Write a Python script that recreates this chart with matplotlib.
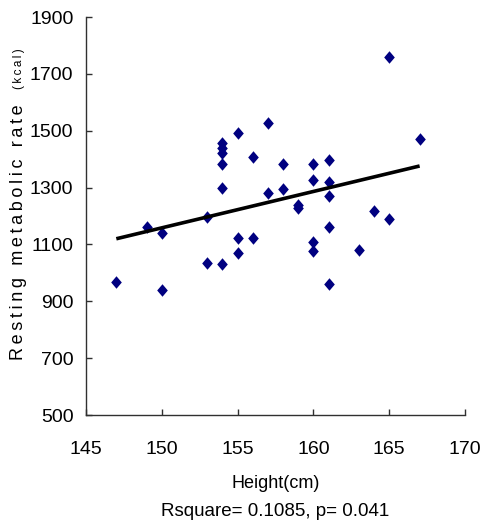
import matplotlib

matplotlib.use("Agg")

import matplotlib.pyplot as plt

plt.rcParams["font.family"] = ["Liberation Sans", "DejaVu Sans"]

# height (cm) vs resting metabolic rate (kcal)
height = [147, 149, 150, 150, 153, 153,
          154, 154, 154, 154, 154, 154,
          155, 155, 155, 156, 156, 157, 157,
          158, 158, 159, 159,
          160, 160, 160, 160,
          161, 161, 161, 161, 161,
          163, 164, 165, 165, 167]
rmr = [967, 1162, 1139, 940, 1195, 1036,
       1456, 1438, 1421, 1382, 1298, 1030,
       1493, 1121, 1071, 1409, 1121, 1526, 1280,
       1383, 1294, 1240, 1228,
       1383, 1327, 1108, 1078,
       1397, 1321, 1272, 1160, 961,
       1079, 1216, 1760, 1190, 1472]

# regression line end points
fit_x = [147, 167]
fit_y = [1120, 1376]

x_ticks = [145, 150, 155, 160, 165, 170]
y_ticks = [500, 700, 900, 1100, 1300, 1500, 1700, 1900]


def spaced(text):
    # letter-spaced label: thin space between letters, wider gap between words
    return "\u2009 \u2009".join("\u2009".join(word) for word in text.split(" "))


fig = plt.figure(figsize=(4.83, 5.27), dpi=100)
ax = fig.add_axes([0.178, 0.2125, 0.785, 0.7552])

diamond = [(0, 1), (0.85, 0), (0, -1), (-0.85, 0), (0, 1)]
ax.plot(height, rmr, linestyle="none", marker=diamond, markersize=9,
        color="#000080", markeredgewidth=0, zorder=3)
ax.plot(fit_x, fit_y, color="black", linewidth=2.6, solid_capstyle="butt", zorder=4)

ax.set_xlim(145, 170)
ax.set_ylim(500, 1900)
ax.set_xticks(x_ticks)
ax.set_yticks(y_ticks)
for side in ("top", "right"):
    ax.spines[side].set_visible(False)
for side in ("left", "bottom"):
    ax.spines[side].set_color("#303030")
    ax.spines[side].set_linewidth(1.0)
ax.tick_params(axis="x", direction="in", length=4, width=1, color="#303030",
               labelsize=14, pad=19)
ax.tick_params(axis="y", direction="in", length=4, width=1, color="#303030",
               labelsize=14, pad=9)

fig.text(0.039, 0.317, spaced("Resting metabolic rate"), rotation=90,
         ha="center", va="bottom", fontsize=13)
fig.text(0.039, 0.909, spaced("(kcal)"), rotation=90, ha="center", va="top",
         fontsize=8.5)

fig.text(0.57, 0.082, "Height(cm)", ha="center", va="center", fontsize=13)
fig.text(0.57, 0.029, "Rsquare= 0.1085, p= 0.041", ha="center", va="center", fontsize=13.5)

fig.savefig("out.png", dpi=100)
